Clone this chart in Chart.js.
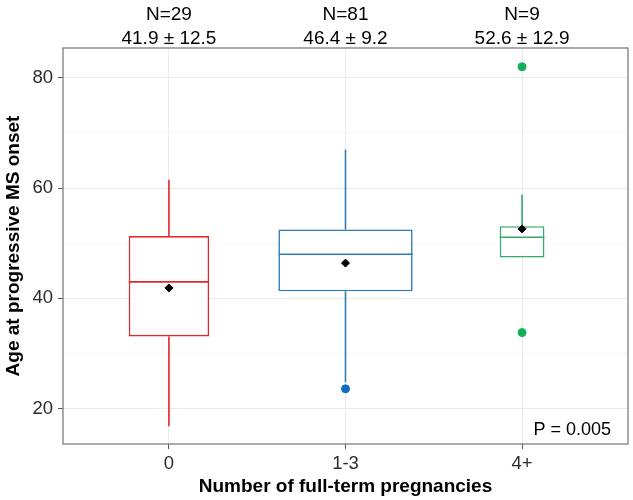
<!DOCTYPE html>
<html>
<head>
<meta charset="utf-8">
<script src="https://cdn.jsdelivr.net/npm/chart.js@4.4.1/dist/chart.umd.min.js"></script>
<style>
html,body{margin:0;padding:0;background:#ffffff;}
#wrap{width:633px;height:500px;}
</style>
</head>
<body>
<div id="wrap"><canvas id="c" width="633" height="500"></canvas></div>
<script>
// ---- data ----
const categories = ['0', '1-3', '4+'];
const nCounts = [29, 81, 9];
const meanVals = [41.9, 46.4, 52.6];
const sdVals = [12.5, 9.2, 12.9];
const q1Vals = [33.1, 41.3, 47.4];
const medianVals = [43.0, 48.0, 51.1];
const q3Vals = [51.3, 52.5, 53.1];
const whiskerLow = [16.8, 24.8, 47.4];
const whiskerHigh = [61.5, 67.0, 58.8];
const outlierVals = [[], [23.6], [82.0, 33.8]];
const yMajorTicks = [20, 40, 60, 80];
const yMinorTicks = [30, 50, 70];
const pValueText = 'P = 0.005';

// ---- styles ----
const lineColors = ['#E2272B', '#2E7CB6', '#33A96B'];
const pointColors = ['#E2272B', '#0F6EC2', '#12B056'];
const FONT = '"Liberation Sans", Arial, Helvetica, sans-serif';
const widthPerSqrtN = 0.0845;

Chart.defaults.font.family = FONT;

const datasets = [];
categories.forEach((c, i) => {
  const w = widthPerSqrtN * Math.sqrt(nCounts[i]);
  datasets.push({
    type: 'bar',
    data: [{ x: i, y: [q1Vals[i], q3Vals[i]] }],
    backgroundColor: '#ffffff',
    borderColor: lineColors[i],
    borderWidth: 1.6,
    borderSkipped: false,
    grouped: false,
    barPercentage: w,
    categoryPercentage: 1,
    order: 3
  });
  datasets.push({
    type: 'scatter',
    showLine: true,
    data: [
      { x: i, y: q3Vals[i] }, { x: i, y: whiskerHigh[i] }, { x: i, y: null },
      { x: i, y: q1Vals[i] }, { x: i, y: whiskerLow[i] }, { x: i, y: null },
      { x: i - w / 2, y: medianVals[i] }, { x: i + w / 2, y: medianVals[i] }
    ],
    borderColor: lineColors[i],
    borderWidth: 1.6,
    pointRadius: 0,
    spanGaps: false,
    order: 2
  });
  if (outlierVals[i].length) {
    datasets.push({
      type: 'scatter',
      data: outlierVals[i].map(v => ({ x: i, y: v })),
      backgroundColor: pointColors[i],
      borderColor: pointColors[i],
      borderWidth: 1,
      pointRadius: 4,
      order: 1
    });
  }
});
datasets.push({
  type: 'scatter',
  data: meanVals.map((m, i) => ({ x: i, y: m })),
  pointStyle: 'rectRot',
  backgroundColor: '#000000',
  borderColor: '#000000',
  borderWidth: 1,
  pointRadius: 4,
  order: 0
});

const catTicks = s => { s.ticks = categories.map((c, i) => ({ value: i })); };
const allY = yMinorTicks.concat(yMajorTicks).sort((a, b) => a - b);
const isMajor = v => yMajorTicks.includes(v);

const panelPlugin = {
  id: 'panel',
  afterDraw(chart) {
    const { ctx, chartArea: a } = chart;
    ctx.save();
    ctx.strokeStyle = '#7F7F7F';
    ctx.lineWidth = 1.3;
    ctx.strokeRect(a.left, a.top, a.right - a.left, a.bottom - a.top);
    ctx.fillStyle = '#000000';
    ctx.font = '18px ' + FONT;
    ctx.textAlign = 'right';
    ctx.textBaseline = 'middle';
    ctx.fillText(pValueText, a.right - 17, a.bottom - 14);
    ctx.restore();
  }
};

new Chart(document.getElementById('c'), {
  type: 'bar',
  data: { datasets },
  plugins: [panelPlugin],
  options: {
    responsive: false,
    animation: false,
    devicePixelRatio: 1,
    events: [],
    layout: { padding: { left: 0, right: 4, top: 0, bottom: 0 } },
    plugins: { legend: { display: false }, tooltip: { enabled: false } },
    scales: {
      x: {
        type: 'linear', position: 'bottom', min: -0.6, max: 2.6, offset: false,
        afterBuildTicks: catTicks,
        afterFit: s => { s.height = 56; },
        ticks: { callback: v => categories[v] ?? '', color: '#2B2B2B', font: { size: 18.5 }, padding: 4, autoSkip: false, maxRotation: 0 },
        grid: { offset: false, color: '#EBEBEB', lineWidth: 1, tickColor: '#555555', tickLength: 5 },
        border: { display: false },
        title: { display: true, text: 'Number of full-term pregnancies', color: '#000000', font: { size: 19, weight: 'bold' }, padding: { top: 0, bottom: 2 } }
      },
      x2: {
        type: 'linear', position: 'top', min: -0.6, max: 2.6, offset: false,
        afterBuildTicks: catTicks,
        afterFit: s => { s.height = 48; },
        ticks: {
          callback: v => ['N=' + nCounts[v], meanVals[v].toFixed(1) + ' ± ' + sdVals[v].toFixed(1)],
          color: '#000000', font: { size: 19, lineHeight: 1.27 }, padding: -3, autoSkip: false, maxRotation: 0
        },
        grid: { display: false, drawTicks: false, offset: false },
        border: { display: false }
      },
      y: {
        type: 'linear', position: 'left', min: 13.6, max: 85.4,
        afterBuildTicks: s => { s.ticks = allY.map(v => ({ value: v })); },
        afterFit: s => { s.width = 63; },
        ticks: { callback: v => isMajor(v) ? String(v) : '', color: '#2B2B2B', font: { size: 18.5 }, padding: 5, autoSkip: false },
        grid: {
          color: c => isMajor(c.tick.value) ? '#EBEBEB' : '#F3F3F3',
          lineWidth: c => isMajor(c.tick.value) ? 1 : 0.7,
          tickColor: c => isMajor(c.tick.value) ? '#555555' : 'rgba(0,0,0,0)',
          tickLength: 5
        },
        border: { display: false },
        title: { display: true, text: 'Age at progressive MS onset', color: '#000000', font: { size: 19, weight: 'bold' }, padding: { top: 2, bottom: 0 } }
      }
    }
  }
});
</script>
</body>
</html>
